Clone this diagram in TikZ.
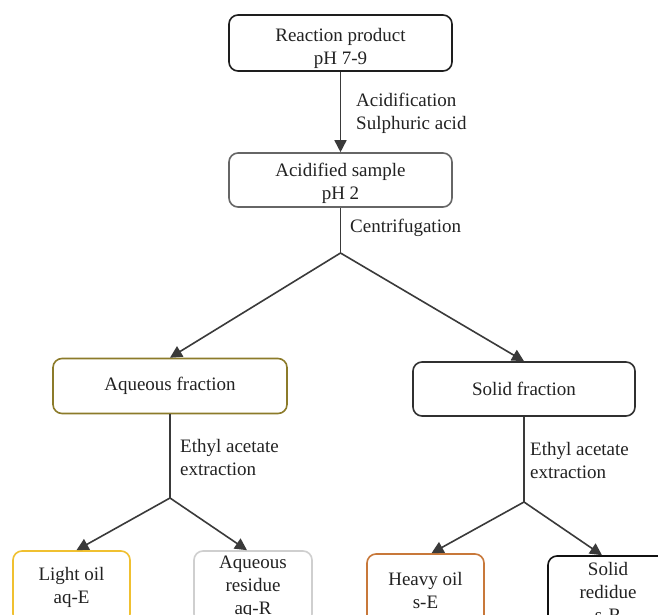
\documentclass[tikz,border=0pt]{standalone}
\usepackage{fontspec}
\setmainfont{Liberation Serif}
\usetikzlibrary{arrows.meta}
\definecolor{linec}{HTML}{3A3A3A}
\definecolor{txtc}{HTML}{222222}
\definecolor{bA}{HTML}{1E1E1E}
\definecolor{bB}{HTML}{666666}
\definecolor{bAq}{HTML}{8C7B2A}
\definecolor{bSo}{HTML}{303030}
\definecolor{bLo}{HTML}{F0C030}
\definecolor{bAr}{HTML}{CFCFCF}
\definecolor{bHo}{HTML}{C8783A}
\definecolor{bSr}{HTML}{111111}
\tikzset{
  txt/.style={font=\fontsize{19}{23}\selectfont, text=txtc},
  box/.style={txt, draw, rectangle, rounded corners=9pt, line width=1.6pt, align=center, inner sep=0pt},
  lbl/.style={txt, align=left, inner sep=0pt, anchor=west},
  conn/.style={draw=linec, line width=1.6pt},
  arr/.style={conn, -{Triangle[length=12pt,width=12pt]}}
}
\begin{document}
\begin{tikzpicture}[x=1pt,y=-1pt]
\useasboundingbox (0,0) rectangle (658,615);
\fill[white] (0,0) rectangle (658,615);
\clip (0,0) rectangle (658,615);
% nodes
\node[box, draw=bA, minimum width=223pt, minimum height=56pt] (rp) at (340.5,43) {};
\node[txt, align=center, inner sep=0pt] (rpt) at (340.5,48) {Reaction product\\pH 7-9};
\node[box, draw=bB, minimum width=223pt, minimum height=54pt] (as) at (340.5,180) {};
\node[txt, align=center, inner sep=0pt] (ast) at (340.5,183) {Acidified sample\\pH 2};
\node[box, draw=bAq, minimum width=234pt, minimum height=55pt] (aq) at (170,386) {Aqueous fraction};
\node[box, draw=bSo, minimum width=222pt, minimum height=54pt] (sf) at (524,389) {Solid fraction};
\node[box, draw=bLo, minimum width=117pt, minimum height=72pt] (lo) at (71.5,587) {Light oil\\aq-E};
\node[box, draw=bAr, minimum width=118pt, minimum height=72pt] (ar) at (253,587) {Aqueous\\residue\\aq-R};
\node[box, draw=bHo, minimum width=117pt, minimum height=72pt] (ho) at (425.5,590) {Heavy oil\\s-E};
\node[box, draw=bSr, minimum width=120pt, minimum height=72pt] (sr) at (608,592) {Solid\\redidue\\s-R};
% labels
\node[lbl] (l1) at (356,113) {Acidification\\Sulphuric acid};
\node[txt, inner sep=0pt, anchor=base west] (l2) at (350,232) {Centrifugation};
\node[lbl] (l3) at (180,457) {Ethyl acetate\\extraction};
\node[lbl] (l4) at (530,460) {Ethyl acetate\\extraction};
% junctions
\coordinate (j1) at (340.5,253);
\coordinate (j2) at (170,498);
\coordinate (j3) at (524,502);
% connectors
\draw[arr] (rp.south) -- (as.north);
\draw[conn] (as.south) -- (j1);
\draw[arr] (j1) -- (aq.north);
\draw[arr] (j1) -- (sf.north);
\draw[conn] (aq.south) -- (j2);
\draw[arr] (j2) -- ([xshift=5pt]lo.north);
\draw[arr] (j2) -- ([xshift=-6pt]ar.north);
\draw[conn] (sf.south) -- (j3);
\draw[arr] (j3) -- ([xshift=6pt]ho.north);
\draw[arr] (j3) -- ([xshift=-6pt]sr.north);
\end{tikzpicture}
\end{document}
